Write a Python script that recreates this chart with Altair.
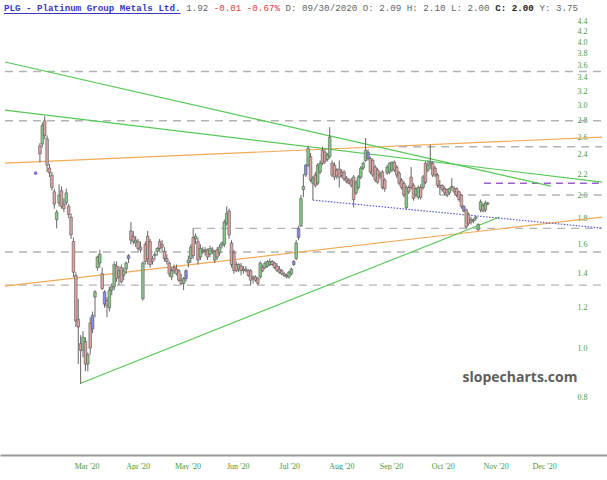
import altair as alt
import pandas as pd

# ---------------- data ----------------
opens = [2.50,2.52,2.80,2.58,2.26,2.19,2.03,1.79,1.93,2.04,1.92,1.93,1.90,1.81,1.62,1.39,1.14,1.02,0.99,1.03,
         0.93,1.12,1.09,1.26,1.44,1.47,1.40,1.29,1.24,1.20,1.30,1.32,1.45,1.38,1.44,1.39,1.43,1.50,1.70,1.66,
         1.61,1.62,1.58,1.25,1.60,1.66,1.62,1.50,1.52,1.55,1.62,1.60,1.55,1.50,1.47,1.38,1.44,1.43,1.42,1.36,
         1.34,1.37,1.47,1.50,1.65,1.64,1.62,1.51,1.56,1.55,1.56,1.53,1.56,1.49,1.56,1.54,1.59,1.60,1.76,1.86,
         1.61,1.54,1.46,1.43,1.45,1.42,1.43,1.42,1.42,1.37,1.38,1.37,1.38,1.44,1.44,1.45,1.46,1.48,1.47,1.45,
         1.43,1.42,1.40,1.39,1.38,1.40,1.46,1.50,1.65,1.74,2.05,2.19,2.29,2.38,2.11,2.19,2.11,2.22,2.45,2.43,
         2.35,2.38,2.31,2.29,2.24,2.25,2.22,2.22,2.16,2.14,2.14,2.17,2.02,2.07,2.17,2.26,2.34,2.43,2.36,2.34,
         2.27,2.24,2.18,2.22,2.14,2.21,2.22,2.24,2.32,2.27,2.21,2.14,2.11,1.89,2.07,2.17,2.09,2.00,1.98,2.07,
         2.07,2.31,2.24,2.30,2.31,2.26,2.19,2.09,2.09,2.06,2.05,2.02,2.07,2.06,2.06,2.03,2.00,1.90,1.87,1.83,
         1.79,1.78,1.80,1.71,1.87,1.91,1.87,1.93]
highs = [2.53,2.78,2.86,2.62,2.30,2.22,2.06,1.87,2.10,2.08,1.97,2.06,1.92,1.84,1.65,1.41,1.25,1.06,1.08,1.05,
         0.98,1.15,1.18,1.30,1.52,1.56,1.44,1.30,1.26,1.32,1.34,1.48,1.48,1.45,1.46,1.44,1.48,1.53,1.77,1.70,
         1.66,1.64,1.62,1.48,1.62,1.70,1.64,1.52,1.55,1.58,1.64,1.63,1.58,1.53,1.48,1.44,1.46,1.46,1.43,1.40,
         1.38,1.43,1.52,1.60,1.72,1.68,1.65,1.60,1.58,1.58,1.57,1.59,1.58,1.56,1.58,1.60,1.62,1.79,1.90,1.88,
         1.63,1.56,1.48,1.47,1.47,1.45,1.45,1.43,1.43,1.39,1.39,1.38,1.48,1.46,1.48,1.49,1.50,1.49,1.48,1.47,
         1.45,1.43,1.41,1.40,1.42,1.44,1.49,1.63,1.74,2.00,2.20,2.30,2.50,2.42,2.18,2.22,2.31,2.34,2.49,2.46,
         2.42,2.72,2.34,2.32,2.26,2.34,2.25,2.24,2.18,2.16,2.16,2.19,2.14,2.19,2.28,2.33,2.59,2.46,2.38,2.36,
         2.29,2.26,2.23,2.24,2.16,2.29,2.32,2.33,2.34,2.29,2.23,2.16,2.13,2.09,2.09,2.27,2.11,2.07,2.09,2.10,
         2.19,2.33,2.34,2.51,2.33,2.28,2.21,2.14,2.10,2.08,2.06,2.07,2.16,2.08,2.07,2.04,2.01,1.91,1.88,1.85,
         1.81,1.80,1.82,1.76,1.96,1.93,1.95,1.94]
lows = [2.32,2.48,2.58,2.22,2.17,2.04,1.88,1.72,1.90,1.88,1.85,1.91,1.80,1.64,1.38,1.10,0.93,0.85,0.96,0.90,
        0.90,0.97,1.07,1.15,1.42,1.44,1.30,1.20,1.15,1.18,1.27,1.30,1.35,1.33,1.34,1.36,1.40,1.47,1.60,1.60,
        1.58,1.55,1.54,1.24,1.46,1.46,1.44,1.46,1.49,1.52,1.55,1.55,1.48,1.46,1.38,1.36,1.40,1.39,1.35,1.33,
        1.30,1.35,1.44,1.47,1.50,1.60,1.46,1.49,1.53,1.52,1.49,1.51,1.53,1.47,1.49,1.52,1.57,1.58,1.74,1.64,
        1.44,1.40,1.41,1.41,1.39,1.40,1.41,1.38,1.33,1.34,1.35,1.33,1.37,1.41,1.43,1.44,1.45,1.45,1.43,1.41,
        1.40,1.39,1.38,1.37,1.37,1.39,1.45,1.49,1.63,1.73,1.98,2.17,2.27,2.12,1.955,2.07,2.09,2.20,2.29,2.30,
        2.33,2.36,2.17,2.14,2.15,2.07,2.16,2.13,2.11,2.10,2.07,1.89,2.00,2.05,2.15,2.24,2.32,2.34,2.20,2.17,
        2.12,2.10,2.15,2.05,2.03,2.19,2.20,2.22,2.22,2.16,2.09,2.05,1.98,1.87,2.01,2.05,1.95,1.98,1.96,1.96,
        2.05,2.10,2.22,2.25,2.17,2.17,2.07,2.00,2.03,2.00,1.98,2.00,2.04,2.01,1.98,1.94,1.88,1.85,1.72,1.74,
        1.75,1.76,1.78,1.70,1.85,1.85,1.85,1.91]
closes = [2.41,2.74,2.62,2.29,2.21,2.07,1.92,1.85,2.00,1.90,1.88,2.02,1.83,1.67,1.41,1.13,1.10,0.99,1.05,0.93,
          0.97,1.00,1.16,1.29,1.51,1.53,1.31,1.22,1.21,1.30,1.32,1.46,1.37,1.42,1.35,1.42,1.47,1.52,1.63,1.62,
          1.63,1.57,1.56,1.47,1.48,1.50,1.46,1.48,1.53,1.57,1.57,1.58,1.50,1.48,1.40,1.42,1.42,1.40,1.36,1.34,
          1.37,1.42,1.49,1.58,1.52,1.66,1.49,1.57,1.55,1.56,1.51,1.57,1.55,1.55,1.51,1.58,1.61,1.77,1.84,1.67,
          1.46,1.42,1.42,1.46,1.42,1.43,1.42,1.39,1.36,1.38,1.36,1.34,1.47,1.42,1.47,1.48,1.48,1.46,1.44,1.42,
          1.41,1.40,1.39,1.38,1.41,1.43,1.48,1.61,1.72,1.97,2.08,2.29,2.47,2.14,2.16,2.09,2.29,2.31,2.31,2.33,
          2.40,2.60,2.19,2.17,2.18,2.17,2.19,2.15,2.13,2.11,2.09,1.96,2.12,2.17,2.26,2.31,2.45,2.36,2.22,2.19,
          2.14,2.12,2.20,2.07,2.06,2.27,2.31,2.32,2.24,2.19,2.11,2.07,2.00,2.07,2.03,2.07,1.97,2.06,2.07,1.98,
          2.17,2.12,2.29,2.32,2.19,2.19,2.09,2.07,2.05,2.02,2.00,2.06,2.08,2.03,2.00,1.96,1.90,1.86,1.73,1.76,
          1.77,1.79,1.81,1.75,1.94,1.86,1.93,1.92]
blue_days = [22, 27, 37, 61, 106, 108, 111, 137, 177]

marker_day = [-1.8]
marker_val = [2.21]

month_pos = [19.5, 40.8, 61.6, 82.6, 104.1, 125.9, 146.6, 168.2, 190.3, 210.5]
month_lbl = ["Mar '20", "Apr '20", "May '20", "Jun '20", "Jul '20", "Aug '20",
             "Sep '20", "Oct '20", "Nov '20", "Dec '20"]
y_ticks = [0.8, 1.0, 1.2, 1.4, 1.6, 1.8, 2.0, 2.2, 2.4, 2.6, 2.8, 3.0, 3.2, 3.4, 3.6, 3.8, 4.0, 4.2, 4.4]

# trend lines: (id, day, value)
green_id = ["g1", "g1", "g2", "g2", "g3", "g3"]
green_day = [-14.6, 213.3, -14.6, 234.7, 17.0, 192.0]
green_val = [3.654, 2.083, 2.939, 2.121, 0.853, 1.81]
orange_id = ["o1", "o1", "o2", "o2"]
orange_day = [-14.6, 234.7, -14.6, 234.7]
orange_val = [2.312, 2.60, 1.324, 1.81]
blue_day = [114.0, 234.7]
blue_val = [1.955, 1.722]
purple_day = [185.4, 234.7]
purple_val = [2.11, 2.11]
level_val = [3.5, 2.8, 2.49, 2.0, 1.72, 1.545, 1.33]
level_from = [-14.6, -14.6, 150.0, 167.0, 64.0, -14.6, -14.6]
level_to = [234.7] * 7

# ---------------- chart ----------------
X_DOM = [-14.58, 234.7]
Y_DOM = [0.616, 4.84]
GREEN_TXT = "#3f9a3f"

label_expr = ("[" + ",".join('"%s"' % s for s in month_lbl) + "][indexof(["
              + ",".join(str(v) for v in month_pos) + "], datum.value)]")

xaxis = alt.Axis(values=month_pos, labelExpr=label_expr, title=None, grid=False, ticks=False,
                 domainColor="#9a9a9a", domainWidth=2, labelColor=GREEN_TXT,
                 labelFont="Liberation Serif", labelFontSize=8, labelPadding=7)
yaxis = alt.Axis(orient="right", values=y_ticks, format=".1f", title=None, grid=False, ticks=False,
                 domain=False, offset=-32, labelPadding=2, labelAlign="left",
                 labelColor=GREEN_TXT, labelFont="Liberation Serif", labelFontSize=8)

xs = alt.Scale(domain=X_DOM, nice=False, zero=False)
ys = alt.Scale(type="log", domain=Y_DOM, nice=False)


def X(field):
    return alt.X(field, type="quantitative", scale=xs, axis=xaxis)


def Y(field):
    return alt.Y(field, type="quantitative", scale=ys, axis=yaxis)


ohlc = pd.DataFrame({"day": list(range(len(opens))), "o": opens, "h": highs, "l": lows, "c": closes})
ohlc["kind"] = ["blue" if d in blue_days else ("up" if cc >= oo else "down")
                for d, oo, cc in zip(ohlc["day"], ohlc["o"], ohlc["c"])]

levels = pd.DataFrame({"v": level_val, "a": level_from, "b": level_to})
lev = alt.Chart(levels).mark_rule(color="#b4b4b4", strokeWidth=1.4, strokeDash=[8, 6]).encode(
    x=X("a"), x2="b", y=Y("v"))

purple = alt.Chart(pd.DataFrame({"day": purple_day, "v": purple_val})).mark_line(
    color="#9b5fd0", strokeWidth=1.5, strokeDash=[7, 5]).encode(x=X("day"), y=Y("v"))

orange = alt.Chart(pd.DataFrame({"id": orange_id, "day": orange_day, "v": orange_val})).mark_line(
    color="#f3aa55", strokeWidth=1.2, clip=True).encode(x=X("day"), y=Y("v"), detail="id:N")

green = alt.Chart(pd.DataFrame({"id": green_id, "day": green_day, "v": green_val})).mark_line(
    color="#55c855", strokeWidth=1.1, clip=True).encode(x=X("day"), y=Y("v"), detail="id:N")

bluel = alt.Chart(pd.DataFrame({"day": blue_day, "v": blue_val})).mark_line(
    color="#5a5ad8", strokeWidth=1.2, strokeDash=[1.5, 1.5], clip=True).encode(x=X("day"), y=Y("v"))

wick = alt.Chart(ohlc).mark_rule(color="#555555", strokeWidth=0.9).encode(
    x=X("day"), y=Y("l"), y2="h")
body = alt.Chart(ohlc).mark_bar(size=2.6, stroke="#555555", strokeWidth=0.6).encode(
    x=X("day"), y=Y("o"), y2="c",
    fill=alt.Fill("kind:N", scale=alt.Scale(domain=["up", "down", "blue"],
                                             range=["#86c986", "#dda2a2", "#8a8ae8"]), legend=None))

marker = alt.Chart(pd.DataFrame({"day": marker_day, "v": marker_val})).mark_circle(
    size=14, color="#7a7ad8", opacity=1).encode(x=X("day"), y=Y("v"))


def txt(s, px, py, color, size=9.2, weight="normal", font="Liberation Mono", align="left"):
    return alt.Chart(pd.DataFrame({"t": [s]})).mark_text(
        align=align, baseline="alphabetic", font=font, fontSize=size, fontWeight=weight, color=color
    ).encode(text="t:N", x=alt.value(px), y=alt.value(py))


CW = 9.2 * 0.6
X0 = 4
hdr = [
    txt("PLG - Platinum Group Metals Ltd.", X0, 11, "#3838c0", weight="bold"),
    txt("1.92", X0 + 33 * CW, 11, "#666666"),
    txt("-0.01 -0.67%", X0 + 38 * CW, 11, "#e03c3c"),
    txt("D: 09/30/2020 O: 2.09 H: 2.10 L: 2.00", X0 + 51 * CW, 11, "#666666"),
    txt("C: 2.00", X0 + 89 * CW, 11, "#222222", weight="bold"),
    txt("Y: 3.75", X0 + 97 * CW, 11, "#666666"),
]
underline = alt.Chart(pd.DataFrame({"k": [0]})).mark_rule(color="#3838c0", strokeWidth=1).encode(
    x=alt.value(X0), x2=alt.value(X0 + 32 * CW), y=alt.value(13.5))

water = txt("slopecharts.com", 520, 382, "#5e5e5e", size=14, weight="bold", font="Open Sans",
            align="center")

chart = alt.layer(lev, purple, orange, green, bluel, wick, body, marker, underline, water, *hdr).properties(
    width=607, height=455, padding=0, background="white"
).configure_view(stroke=None)

chart.save("out.html", embed_options={"renderer": "svg", "actions": False})
